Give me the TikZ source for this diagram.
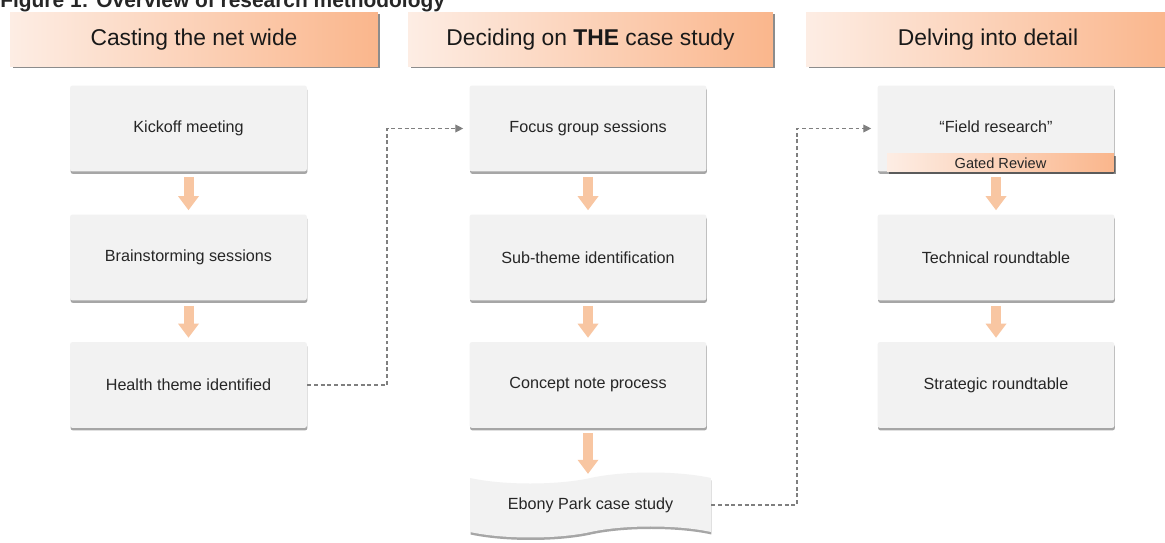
\documentclass[tikz,border=0pt]{standalone}
\usepackage{fontspec}
\setmainfont{Liberation Sans}
\usetikzlibrary{arrows.meta,shadows,shapes.symbols,calc}
\definecolor{boxfill}{HTML}{F2F2F2}
\definecolor{hdrL}{HTML}{FDEDE4}
\definecolor{hdrR}{HTML}{FAB68C}
\definecolor{arrowc}{HTML}{F8C6A2}
\definecolor{txt}{HTML}{262626}
\definecolor{dashc}{HTML}{7F7F7F}
\tikzset{
  stepbox/.style={fill=boxfill, minimum width=4.74cm, minimum height=1.72cm,
    rounded corners=1.5pt, text=txt, inner sep=0pt,
    font=\fontsize{9.2pt}{11pt}\selectfont,
    drop shadow={shadow xshift=0.01cm, shadow yshift=-0.05cm, opacity=0.35, fill=black}},
  header/.style={left color=hdrL, right color=hdrR, minimum height=1.08cm,
    inner sep=0pt, font=\fontsize{13pt}{15pt}\selectfont, text=black!90,
    drop shadow={shadow xshift=0.05cm, shadow yshift=-0.03cm, opacity=0.45, fill=black}},
  gatebar/.style={left color=hdrL, right color=hdrR, minimum width=4.54cm,
    minimum height=0.36cm, inner sep=0pt, text=txt,
    font=\fontsize{8.3pt}{10pt}\selectfont,
    drop shadow={shadow xshift=0.04cm, shadow yshift=-0.04cm, opacity=0.45, fill=black}},
  flowarrow/.style={draw=arrowc, line width=0.2cm,
    -{Triangle[width=0.42cm,length=0.28cm,line width=0pt]},
    shorten <=0.1cm, shorten >=0.08cm},
  dashlink/.style={draw=dashc, line width=0.6pt, dash pattern=on 2.2pt off 1.6pt,
    -{Triangle[length=4.5pt,width=4.5pt]}, shorten >=0.12cm},
  tapebox/.style={shape=tape, fill=boxfill, minimum width=4.82cm, minimum height=1.3cm,
    tape bend top=in and out, tape bend bottom=in and out, tape bend height=0.22cm,
    text=txt, inner sep=0pt, font=\fontsize{9.2pt}{11pt}\selectfont,
    drop shadow={shadow xshift=0.01cm, shadow yshift=-0.05cm, opacity=0.35, fill=black}},
}
\begin{document}
\begin{tikzpicture}[x=0.02cm, y=-0.02cm]
\useasboundingbox (0,0) rectangle (1165,543);
\clip (0,0) rectangle (1165,543);
\fill[white] (0,0) rectangle (1165,543);

% title (cut off at top, as in the reference)
\node[anchor=base west, inner sep=0pt, text=txt,
  font=\bfseries\fontsize{11.9pt}{14pt}\selectfont] (title) at (0,7.5)
  {Figure 1: Overview of research methodology};

% headers
\node[header, minimum width=7.36cm] (h1) at (194,40) {Casting the net wide};
\node[header, minimum width=7.3cm] (h2) at (590.5,40) {Deciding on \textbf{THE} case study};
\node[header, minimum width=7.28cm] (h3) at (988,40) {Delving into detail};

% column 1
\node[stepbox] (k) at (188.5,128.5) {Kickoff meeting};
\node[stepbox] (b) at (188.5,257.5) {Brainstorming sessions};
\node[stepbox] (h) at (188.5,385) {Health theme identified};

% column 2
\node[stepbox] (f) at (588,128.5) {Focus group sessions};
\node[stepbox] (s) at (588,257.5) {Sub-theme identification};
\node[stepbox] (c) at (588,385) {Concept note process};
\node[tapebox] (e) at (590.5,505) {Ebony Park case study};

% column 3
\node[stepbox] (fr) at (996,128.5) {\raisebox{2pt}{“Field research”}};
\node[gatebar] (gr) at (1000.5,163) {Gated Review};
\node[stepbox] (t) at (996,257.5) {Technical roundtable};
\node[stepbox] (st) at (996,385) {Strategic roundtable};

% block arrows
\draw[flowarrow] (k) -- (b);
\draw[flowarrow] (b) -- (h);
\draw[flowarrow] (f) -- (s);
\draw[flowarrow] (s) -- (c);
\draw[flowarrow] (c.south) -- (c.south |- e.north);
\draw[flowarrow] (gr.south -| t.north) -- (t.north);
\draw[flowarrow] (t) -- (st);

% dashed links
\coordinate (j1) at (387,385);
\coordinate (j2) at (797,505);
\draw[dashlink] (h.east) -- (j1) |- (f.west);
\draw[dashlink] (e.east) -- (j2) |- (fr.west);
\end{tikzpicture}
\end{document}
